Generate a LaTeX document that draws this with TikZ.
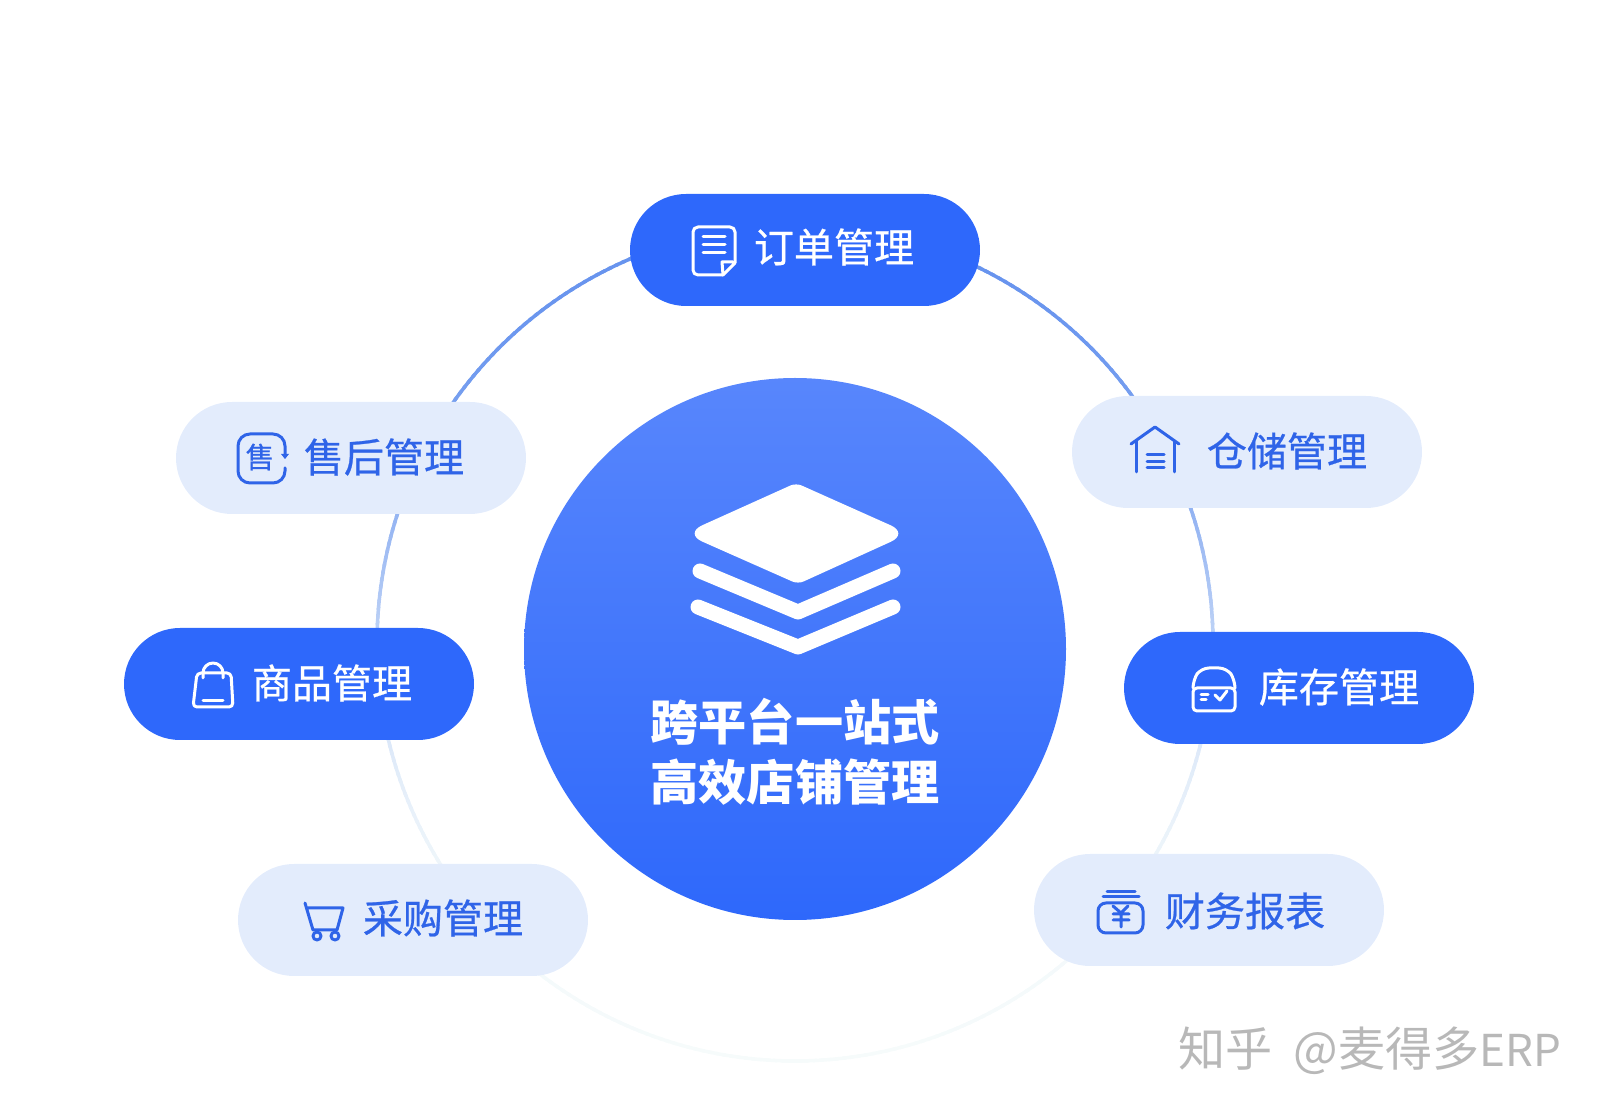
\documentclass[tikz,border=0pt]{standalone}
\usepackage{fontspec}
\setmainfont{Noto Sans CJK SC}
\newfontfamily\pillfont[FakeBold=0.6]{Noto Sans CJK SC}

\definecolor{pilldark}{HTML}{2E68FB}
\definecolor{pilllight}{HTML}{E3ECFC}
\definecolor{inklight}{HTML}{2F64E8}
\definecolor{markgray}{HTML}{B8B8B8}
\definecolor{ringblue}{HTML}{6592EE}
\definecolor{ringpale}{HTML}{F6FBFB}

\begin{document}
\begin{tikzpicture}[x=0.1mm,y=-0.1mm,font=\pillfont\fontsize{11.4}{13}\selectfont]

\tikzset{
% Two pill styles: solid and pale
solid pill/.style={rectangle,fill=pilldark,minimum width=35mm,minimum height=11.2mm,rounded corners=5.6mm,inner sep=0},
pale pill/.style={rectangle,fill=pilllight,minimum width=35mm,minimum height=11.2mm,rounded corners=5.6mm,inner sep=0},
solid text/.style={text=white,inner sep=0},
pale text/.style={text=inklight,inner sep=0},
solid icon/.style={draw=white,line width=0.3mm,line cap=round,line join=round},
pale icon/.style={draw=inklight,line width=0.3mm,line cap=round,line join=round}
}

\useasboundingbox (0,0) rectangle (1600,1114);

% The ring, fading downwards
\begin{scope}[shift={(795,643)}]
\foreach \a in {0,...,180}{
\pgfmathsetmacro{\fade}{100/(1+exp((\a-82)/14))}
\draw[ringblue!\fade!ringpale,line width=0.35mm] (-90+\a:418) -- (-88.5+\a:418);
\draw[ringblue!\fade!ringpale,line width=0.35mm] (-90-\a:418) -- (-91.5-\a:418);
}
\end{scope}

% The hub
\node(hub)[circle,minimum size=54.2mm,inner sep=0,top color=pilldark!80!white,bottom color=pilldark] at (795,649) {};
\node(hubtext)[text=white,align=center,inner sep=0,font=\fontsize{13.7}{17.1}\selectfont\bfseries] at (795,752) {跨平台一站式\\高效店铺管理};

% The stack of layers
\fill[white,rounded corners=0.6mm] (796,483) [rounded corners=2mm] -- (909,533.5) [rounded corners=0.6mm] -- (798,584) [rounded corners=2mm] -- (684,533.5) [rounded corners=0.6mm] -- cycle;
\draw[white,line width=1.5mm,line cap=round,line join=round] (700,571) -- (798,612) -- (893,571);
\draw[white,line width=1.5mm,line cap=round,line join=round] (698,607) -- (798,647) -- (893,607);

% The pills
\node(order)[solid pill] at (805,250) {};
\node(sale)[pale pill] at (351,458) {};
\node(goods)[solid pill] at (299,684) {};
\node(store)[pale pill] at (1247,452) {};
\node(stock)[solid pill] at (1299,688) {};
\node(buy)[pale pill] at (413,920) {};
\node(money)[pale pill] at (1209,910) {};

\node(ordertext)[solid text] at (834,247) {订单管理};
\node(saletext)[pale text] at (384,457) {售后管理};
\node(goodstext)[solid text] at (332,683) {商品管理};
\node(storetext)[pale text] at (1287,451) {仓储管理};
\node(stocktext)[solid text] at (1339,687) {库存管理};
\node(buytext)[pale text] at (443,918) {采购管理};
\node(moneytext)[pale text] at (1245,911) {财务报表};

% Sheet of paper
\draw[solid icon,rounded corners=0.5mm] (723,275) -- (693,275) -- (693,227) -- (735,227) -- (735,263);
\draw[solid icon] (735,263) -- (723,275) -- (722,262) -- (733,262);
\draw[solid icon] (703,237) -- (725,237) (703,245) -- (725,245) (703,253) -- (725,253);

% Square with a character
\draw[pale icon,rounded corners=1.2mm] (285,457) -- (285,434) -- (238,434) -- (238,483) -- (285,483) -- (285,468);
\fill[inklight] (281,454) -- (289,454) -- (285,459) -- cycle;
\node(salemark)[pale text,font=\pillfont\fontsize{8.2}{9}\selectfont] at (260,457) {售};

% Bag
\draw[solid icon,rounded corners=0.4mm] (197,673) -- (231,673) -- (233,707) -- (193,707) -- cycle;
\draw[solid icon] (203,678) -- (203,673) arc[start angle=180,end angle=360,radius=10] -- (223,678);
\draw[solid icon] (203,701) -- (223,701);

% House
\draw[pale icon] (1131,444) -- (1155,427) -- (1179,444);
\draw[pale icon] (1136,441) -- (1136,472) (1174,441) -- (1174,472);
\draw[pale icon] (1147,455) -- (1164,455) (1147,462) -- (1164,462) (1147,468) -- (1164,468);

% Box
\draw[solid icon,rounded corners=0.8mm] (1193,688) -- (1193,680) -- (1201,668) -- (1227,668) -- (1235,680) -- (1235,688);
\draw[solid icon,rounded corners=0.4mm] (1193,688) -- (1193,711) -- (1235,711) -- (1235,688) -- cycle;
\draw[solid icon] (1201,695) -- (1208,695) (1201,700) -- (1206,700);
\draw[solid icon] (1215,695) -- (1220,700) -- (1227,691);

% Cart
\draw[pale icon] (305,903) -- (313,930) -- (337,930) -- (343,908) -- (308,908);
\draw[pale icon] (317,936) circle[radius=4] (335,936) circle[radius=4];

% Money box
\draw[pale icon,rounded corners=0.8mm] (1098,933) -- (1098,903) -- (1143,903) -- (1143,933) -- cycle;
\draw[pale icon] (1107,892) -- (1135,892) (1103,897) -- (1139,897);
\draw[pale icon] (1113,906) -- (1121,913) -- (1128,906) (1121,913) -- (1121,927) (1113,914) -- (1129,914) (1113,920) -- (1129,920);

% Watermark
\node(mark)[text=markgray,inner sep=0,anchor=west,font=\fontsize{13.4}{15}\selectfont] at (1178,1051) {知乎\hspace{6pt}@麦得多{\fontsize{12.5}{15}\selectfont ERP}};

\end{tikzpicture}
\end{document}
